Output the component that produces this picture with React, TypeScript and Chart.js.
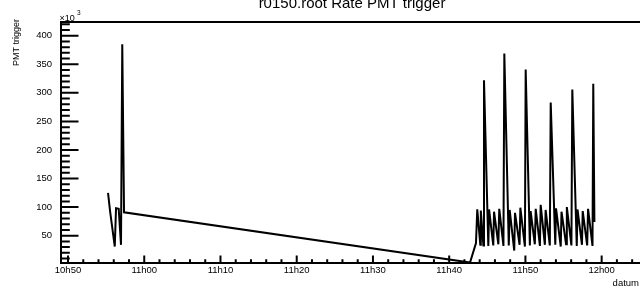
import { useEffect, useRef } from 'react';
import { Chart, registerables } from 'chart.js';

Chart.register(...registerables);

// time stamps (hh:mm:ss) and trigger rate (x10^3)
const times = [
  '10:55:15', '10:55:31', '10:56:08', '10:56:18', '10:56:39', '10:56:57', '10:57:07', '10:57:21',
  '11:42:44', '11:43:31', '11:43:41', '11:44:05', '11:44:09', '11:44:29', '11:44:34',
  '11:45:08', '11:45:14', '11:45:47', '11:45:53', '11:46:27', '11:46:34', '11:47:07', '11:47:14',
  '11:47:49', '11:47:56', '11:48:32', '11:48:38', '11:49:14', '11:49:20', '11:49:56', '11:50:02',
  '11:50:35', '11:50:41', '11:51:14', '11:51:21', '11:51:54', '11:52:00', '11:52:33', '11:52:39',
  '11:53:12', '11:53:19', '11:53:55', '11:54:01', '11:54:38', '11:54:44', '11:55:20', '11:55:26',
  '11:56:02', '11:56:09', '11:56:44', '11:56:50', '11:57:25', '11:57:31', '11:58:06', '11:58:13',
  '11:58:48', '11:58:54', '11:59:03',
];
const rates = [
  125, 93, 31, 98, 97, 34, 385, 91,
  3, 37, 96, 34, 94, 33, 322,
  32, 96, 33, 92, 35, 97, 32, 369,
  33, 95, 24, 90, 34, 99, 31, 341,
  33, 93, 35, 97, 32, 104, 34, 95,
  33, 283, 34, 98, 31, 92, 35, 100,
  33, 306, 32, 96, 34, 93, 33, 97,
  32, 316, 74,
];

const xTickLabels = ['10h50', '11h00', '11h10', '11h20', '11h30', '11h40', '11h50', '12h00'];
const yTickLabels = ['50', '100', '150', '200', '250', '300', '350', '400'];
const chartTitle = 'r0150.root Rate PMT trigger';
const xTitle = 'datum';
const yTitle = 'PMT trigger';

const FONT = "'Liberation Sans', Arial, Helvetica, sans-serif";

const toMin = (s: string) => {
  const [h, m, sec] = s.split(':').map(Number);
  return (h - 10) * 60 + (m - 50) + sec / 60;
};

const rootAxes = {
  id: 'rootAxes',
  afterDraw(chart: any) {
    const { ctx, chartArea } = chart;
    const { left, right, top, bottom } = chartArea;
    const xs = chart.scales.x;
    const ys = chart.scales.y;
    ctx.save();
    ctx.strokeStyle = '#000';
    ctx.lineWidth = 2;
    ctx.lineCap = 'butt';
    // frame / axes
    ctx.beginPath();
    ctx.moveTo(left, top);
    ctx.lineTo(640, top);
    ctx.moveTo(left, top - 1);
    ctx.lineTo(left, bottom + 1);
    ctx.moveTo(left - 1, bottom);
    ctx.lineTo(640, bottom);
    ctx.stroke();
    // ticks
    ctx.beginPath();
    xs.ticks.forEach((t: any) => {
      const px = xs.getPixelForValue(t.value);
      const len = Math.abs(t.value % 10) < 1e-6 ? 7.5 : 3.8;
      ctx.moveTo(px, bottom);
      ctx.lineTo(px, bottom - len);
    });
    ys.ticks.forEach((t: any) => {
      const py = ys.getPixelForValue(t.value);
      const len = Math.abs(t.value % 50) < 1e-6 ? 17.5 : 8.8;
      ctx.moveTo(left, py);
      ctx.lineTo(left + len, py);
    });
    ctx.stroke();
    // texts
    ctx.fillStyle = '#000';
    ctx.textAlign = 'center';
    ctx.textBaseline = 'alphabetic';
    ctx.font = `15px ${FONT}`;
    ctx.fillText(chartTitle, 352, 7.5);
    ctx.textAlign = 'left';
    ctx.font = `9px ${FONT}`;
    ctx.fillText('\u00d710', 59.5, 20.5);
    ctx.font = `6.5px ${FONT}`;
    ctx.fillText('3', 77, 14.5);
    ctx.font = `9.5px ${FONT}`;
    ctx.textAlign = 'right';
    ctx.fillText(xTitle, 639, 286);
    ctx.save();
    ctx.translate(18.5, 19);
    ctx.rotate(-Math.PI / 2);
    ctx.font = `9px ${FONT}`;
    ctx.textAlign = 'right';
    ctx.fillText(yTitle, 0, 0);
    ctx.restore();
    ctx.restore();
  },
};

export default function App() {
  const ref = useRef<HTMLCanvasElement | null>(null);
  useEffect(() => {
    if (!ref.current) return;
    const data = times.map((t, i) => ({ x: toMin(t), y: rates[i] }));
    const chart = new Chart(ref.current, {
      type: 'line',
      data: {
        datasets: [
          {
            data,
            borderColor: '#000',
            borderWidth: 2,
            pointRadius: 0,
            tension: 0,
            fill: false,
          },
        ],
      },
      plugins: [rootAxes],
      options: {
        animation: false,
        responsive: false,
        maintainAspectRatio: false,
        layout: { padding: { top: 22, right: 0, left: 0, bottom: 0 } },
        plugins: { legend: { display: false }, tooltip: { enabled: false }, title: { display: false } },
        scales: {
          x: {
            type: 'linear',
            min: -0.92,
            max: 75.03,
            grid: { display: false, drawTicks: false },
            border: { display: false },
            afterFit: (s: any) => {
              s.height = 25;
            },
            afterBuildTicks: (s: any) => {
              const arr = [];
              for (let m = 0; m <= 74; m += 2) arr.push({ value: m });
              s.ticks = arr;
            },
            ticks: {
              autoSkip: false,
              maxRotation: 0,
              padding: 2,
              color: '#000',
              font: { family: FONT, size: 9.5 },
              callback: (v: any) => {
                const n = Number(v);
                return n % 10 === 0 ? xTickLabels[n / 10] ?? '' : '';
              },
            },
          },
          y: {
            type: 'linear',
            min: 2.2,
            max: 424,
            grid: { display: false, drawTicks: false },
            border: { display: false },
            afterFit: (s: any) => {
              s.width = 61;
            },
            afterBuildTicks: (s: any) => {
              const arr = [];
              for (let v = 10; v <= 420; v += 10) arr.push({ value: v });
              s.ticks = arr;
            },
            ticks: {
              autoSkip: false,
              padding: 9,
              color: '#000',
              font: { family: FONT, size: 9.5 },
              callback: (v: any) => {
                const n = Number(v);
                return n % 50 === 0 ? yTickLabels[n / 50 - 1] ?? '' : '';
              },
            },
          },
        },
      },
    });
    return () => chart.destroy();
  }, []);
  return (
    <div style={{ position: 'fixed', left: 0, top: 0, width: 640, height: 288, background: '#fff' }}>
      <canvas ref={ref} width={640} height={288} style={{ width: 640, height: 288, display: 'block' }} />
    </div>
  );
}
